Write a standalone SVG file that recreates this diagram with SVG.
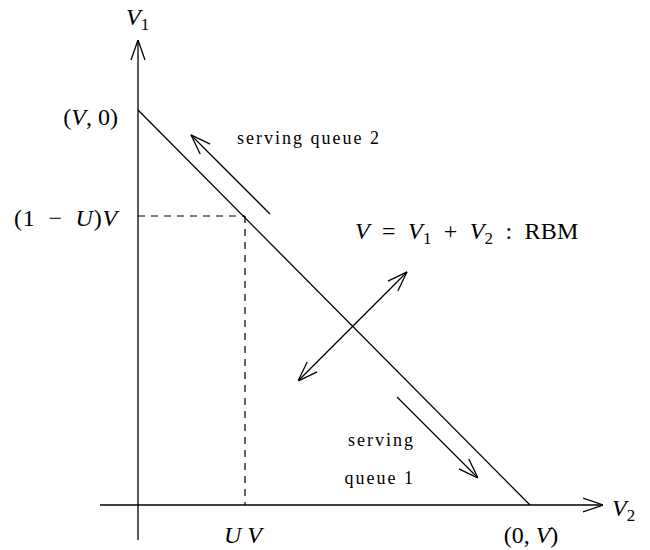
<svg xmlns="http://www.w3.org/2000/svg" width="650" height="550" viewBox="0 0 650 550">
<style>
.ln{stroke:#000;stroke-width:1.3;fill:none}
.ds{stroke:#000;stroke-width:1.2;fill:none;stroke-dasharray:7,6}
.t{font-family:"Liberation Serif","DejaVu Serif",serif;font-size:24px;fill:#000}
.s{font-family:"Liberation Serif","DejaVu Serif",serif;font-size:18px;letter-spacing:2px;fill:#000}
.i{font-style:italic}
</style>
<defs>
<marker id="ah" viewBox="0 0 20 20" refX="20" refY="10" markerWidth="20" markerHeight="20" markerUnits="userSpaceOnUse" orient="auto-start-reverse">
<path d="M0,3 L20,10 L0,17" fill="none" stroke="#000" stroke-width="1.3"/>
</marker>
</defs>
<g id="axes">
<line class="ln" x1="138" y1="540" x2="138" y2="40" marker-end="url(#ah)"/>
<line class="ln" x1="100" y1="505" x2="603" y2="505" marker-end="url(#ah)"/>
</g>
<g id="connectors">
<line class="ln" x1="138" y1="110" x2="530" y2="505"/>
<line class="ds" x1="138" y1="216" x2="245" y2="216"/>
<line class="ds" x1="245" y1="216" x2="245" y2="505"/>
<line class="ln" x1="270" y1="214" x2="191" y2="135" marker-end="url(#ah)"/>
<line class="ln" x1="298" y1="381" x2="407" y2="272" marker-start="url(#ah)" marker-end="url(#ah)"/>
<line class="ln" x1="397" y1="397" x2="478" y2="478" marker-end="url(#ah)"/>
</g>
<g id="labels">
<text class="t i" x="126" y="25">V<tspan style="font-style:normal" font-size="17" dy="5">1</tspan></text>
<text class="t i" x="612" y="516">V<tspan style="font-style:normal" font-size="17" dy="5">2</tspan></text>
<text class="t" x="118" y="125" text-anchor="end">(<tspan class="i">V</tspan>, 0)</text>
<text class="t" x="118" y="226" text-anchor="end" letter-spacing="0.8">(1&#8194;−&#8194;<tspan class="i">U</tspan>)<tspan class="i">V</tspan></text>
<text class="t i" x="243" y="543" text-anchor="middle">U V</text>
<text class="t" x="531" y="543" text-anchor="middle">(0, <tspan class="i">V</tspan>)</text>
<text class="t" x="355" y="239" letter-spacing="0.2"><tspan class="i">V</tspan>&#8194;=&#8194;<tspan class="i">V</tspan><tspan font-size="17" dy="5">1</tspan><tspan dy="-5">&#8194;+&#8194;</tspan><tspan class="i">V</tspan><tspan font-size="17" dy="5">2</tspan><tspan dy="-5">&#8194;:&#8194;RBM</tspan></text>
<text class="s" x="237" y="144">serving queue 2</text>
<text class="s" x="415" y="446" text-anchor="end">serving</text>
<text class="s" x="415" y="484" text-anchor="end">queue 1</text>
</g>
</svg>
